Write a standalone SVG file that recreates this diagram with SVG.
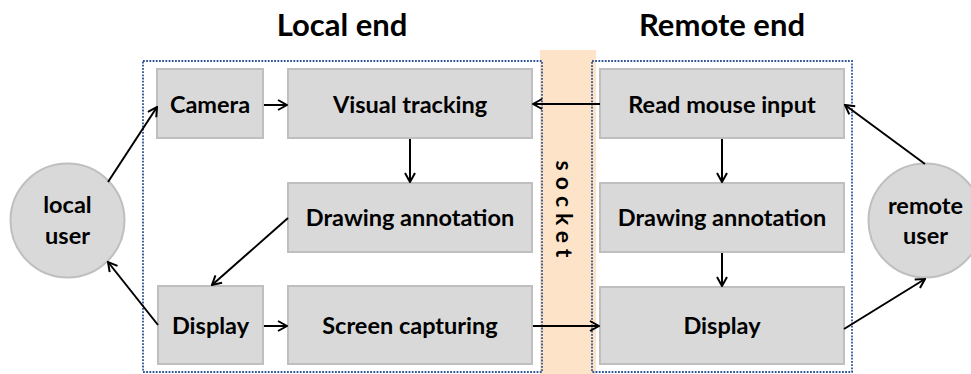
<svg xmlns="http://www.w3.org/2000/svg" width="971" height="374" viewBox="0 0 971 374">
<style>
.box{fill:#d9d9d9;stroke:#bfbfbf;stroke-width:2}
.t{font-family:Lato,"Liberation Sans",sans-serif;font-weight:bold;font-size:23.5px;fill:#000;text-anchor:middle}
.title{font-family:Lato,"Liberation Sans",sans-serif;font-weight:bold;font-size:31px;fill:#000;text-anchor:middle}
.dot{fill:none;stroke:#2f5597;stroke-width:1.8;stroke-dasharray:1.8 1.4}
.c{stroke:#000;stroke-width:2;fill:none;marker-end:url(#ah)}
</style>
<defs>
<marker id="ah" viewBox="0 0 12 12" refX="11" refY="6" markerWidth="12" markerHeight="12" markerUnits="userSpaceOnUse" orient="auto">
<path d="M2,1 L11,6 L2,11" fill="none" stroke="#000" stroke-width="2"/>
</marker>
</defs>
<rect width="971" height="374" fill="#fff"/>
<rect x="540" y="50" width="56" height="324" fill="#fde4c9"/>
<rect class="dot" x="143" y="61" width="399" height="311"/>
<rect class="dot" x="592" y="61" width="260" height="311"/>
<text class="title" x="342" y="36">Local end</text>
<text class="title" x="722" y="36">Remote end</text>
<text x="565" y="212" font-family="Lato,'Liberation Sans',sans-serif" font-weight="bold" font-size="23" letter-spacing="6" text-anchor="middle" dominant-baseline="central" transform="rotate(90 565 212)">socket</text>
<g id="local-user"><circle class="box" cx="67.5" cy="220.5" r="57"/><text class="t" x="67.5" y="213">local</text><text class="t" x="67.5" y="244">user</text></g>
<g id="remote-user"><circle class="box" cx="925.5" cy="220.5" r="57"/><text class="t" x="925.5" y="214">remote</text><text class="t" x="925.5" y="244">user</text></g>
<g id="camera"><rect class="box" x="157" y="69" width="106" height="69"/><text class="t" x="210" y="113">Camera</text></g>
<g id="visual-tracking"><rect class="box" x="288" y="69" width="244" height="69"/><text class="t" x="410" y="113">Visual tracking</text></g>
<g id="read-mouse"><rect class="box" x="600" y="69" width="244" height="69"/><text class="t" x="722" y="113">Read mouse input</text></g>
<g id="draw-local"><rect class="box" x="288" y="183" width="244" height="69"/><text class="t" x="410" y="226">Drawing annotation</text></g>
<g id="draw-remote"><rect class="box" x="600" y="183" width="244" height="69"/><text class="t" x="722" y="226">Drawing annotation</text></g>
<g id="display-local"><rect class="box" x="158" y="286" width="105" height="78"/><text class="t" x="210.5" y="334">Display</text></g>
<g id="screen-capturing"><rect class="box" x="288" y="286" width="244" height="78"/><text class="t" x="410" y="334">Screen capturing</text></g>
<g id="display-remote"><rect class="box" x="600" y="287" width="244" height="77"/><text class="t" x="722" y="334">Display</text></g>
<g id="connectors">
<line class="c" x1="108" y1="182" x2="157" y2="107"/>
<line class="c" x1="264" y1="105" x2="287" y2="105"/>
<line class="c" x1="600" y1="104" x2="533" y2="104"/>
<line class="c" x1="410" y1="139" x2="410" y2="182"/>
<line class="c" x1="722" y1="139" x2="722" y2="182"/>
<line class="c" x1="288" y1="218" x2="212" y2="285"/>
<line class="c" x1="158" y1="325" x2="108" y2="262"/>
<line class="c" x1="264" y1="326" x2="287" y2="326"/>
<line class="c" x1="533" y1="326" x2="599" y2="326"/>
<line class="c" x1="722" y1="253" x2="722" y2="286"/>
<line class="c" x1="844" y1="329" x2="925" y2="279"/>
<line class="c" x1="925" y1="164" x2="845" y2="105"/>
</g>
</svg>
